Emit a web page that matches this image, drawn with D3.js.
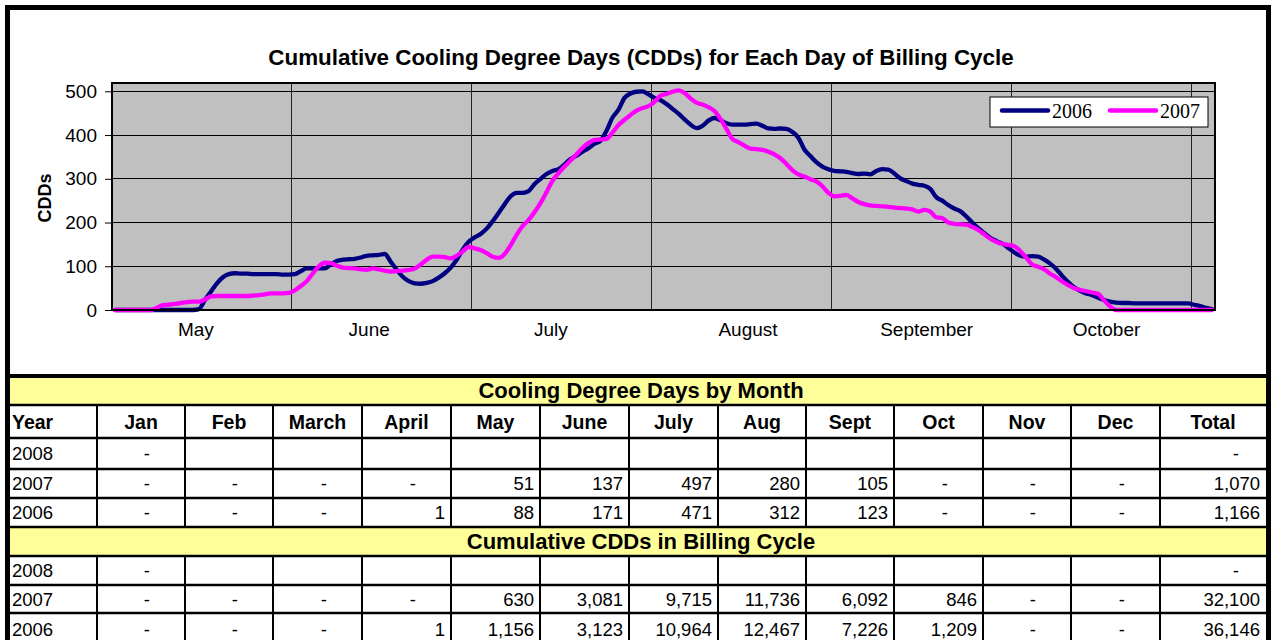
<!DOCTYPE html>
<html>
<head>
<meta charset="utf-8">
<script src="https://cdn.jsdelivr.net/npm/d3@7"></script>
<style>
  body { margin: 0; background: #fff; }
  svg { display: block; font-family: "Liberation Sans", Arial, sans-serif; }
</style>
</head>
<body>
<div id="chart"></div>
<script>
// daily cumulative CDDs, one value per day of the cycle (184 days, May..October)
var cdd2006 = [
  0,0,0,0,0,0,0,0,0,0, 0,0,0,0,2,23,42,61,75,82,
  84,83,83,82,82,82,82,82,81,81, 82,89,95,95,95,95,104,112,115,116,
  117,120,124,125,126,128,110,92,76,66, 61,60,62,66,74,84,97,115,138,156,
  166,174,186,203,222,242,260,268,268,272, 288,300,311,318,322,333,345,353,362,370,
  380,387,410,440,458,485,495,499,500,493, 485,480,471,460,449,436,424,416,421,433,
  439,434,427,424,424,424,425,426,421,415, 414,415,414,407,394,367,352,338,328,322,
  318,317,316,313,311,312,310,318,322,321, 312,301,295,289,286,284,277,258,250,240,
  232,226,214,200,187,176,165,158,152,142, 132,124,122,123,122,115,106,94,78,64,
  52,44,38,34,28,23,19,17,16,16, 15,15,15,15,15,15,15,15,15,15,
  12,9,5,2
];
var cdd2007 = [
  0,0,0,0,0,0,0,5,11,12, 14,16,18,19,19,24,31,32,32,32,
  32,32,32,33,34,36,38,38,38,39, 45,55,66,84,100,108,107,101,97,96,
  95,93,92,95,93,90,88,89,90,92, 95,104,115,122,122,121,118,124,134,144,
  141,137,130,122,119,128,148,172,192,206, 224,245,270,296,313,328,342,356,371,382,
  389,390,391,406,423,435,446,456,462,466, 476,490,494,499,502,496,484,474,470,464,
  455,437,414,391,384,376,369,368,366,362, 356,347,334,320,310,305,299,294,283,268,
  260,261,263,255,247,242,239,238,237,236, 234,233,232,230,225,229,225,212,210,200,
  197,196,195,190,183,173,163,156,151,149, 146,135,120,104,99,93,83,75,65,57,
  50,46,43,40,37,22,8,0,0,0, 0,0,0,0,0,0,0,0,0,0,
  0,0,0,0
];
var seriesNames = ["2006", "2007"];
var seriesColors = ["#000080", "#ff00ff"];

var yTicks = [0, 100, 200, 300, 400, 500];
var monthLabels = ["May", "June", "July", "August", "September", "October"];
var monthLabelDay = [13.5, 42.4, 72.7, 105.6, 135.4, 165.4];
var gridDays = [30, 60, 90, 120, 150, 180];

var tableHeaders = ["Year", "Jan", "Feb", "March", "April", "May", "June", "July", "Aug", "Sept", "Oct", "Nov", "Dec", "Total"];
var monthly2008 = ["2008", "-", "", "", "", "", "", "", "", "", "", "", "", "-"];
var monthly2007 = ["2007", "-", "-", "-", "-", "51", "137", "497", "280", "105", "-", "-", "-", "1,070"];
var monthly2006 = ["2006", "-", "-", "-", "1", "88", "171", "471", "312", "123", "-", "-", "-", "1,166"];
var cumul2008 = ["2008", "-", "", "", "", "", "", "", "", "", "", "", "", "-"];
var cumul2007 = ["2007", "-", "-", "-", "-", "630", "3,081", "9,715", "11,736", "6,092", "846", "-", "-", "32,100"];
var cumul2006 = ["2006", "-", "-", "-", "1", "1,156", "3,123", "10,964", "12,467", "7,226", "1,209", "-", "-", "36,146"];

var W = 1271, H = 640;
var plot = { left: 112, right: 1215, top: 83, bottom: 310 };

var svg = d3.select("#chart").append("svg")
    .attr("width", W)
    .attr("height", H);

svg.append("rect").attr("width", W).attr("height", H).attr("fill", "#fff");

var x = d3.scaleLinear().domain([0, cdd2006.length]).range([plot.left, plot.right]);
var y = d3.scaleLinear().domain([0, 519]).range([plot.bottom, plot.top]);

// plot background
svg.append("rect")
   .attr("x", plot.left).attr("y", plot.top)
   .attr("width", plot.right - plot.left).attr("height", plot.bottom - plot.top)
   .attr("fill", "#c0c0c0");

// gridlines
svg.append("g").selectAll("line")
   .data(yTicks.slice(1))
   .enter().append("line")
   .attr("x1", plot.left).attr("x2", plot.right)
   .attr("y1", function(d) { return y(d); })
   .attr("y2", function(d) { return y(d); })
   .attr("stroke", "#000").attr("stroke-width", 1).attr("shape-rendering", "crispEdges");

svg.append("g").selectAll("line")
   .data(gridDays)
   .enter().append("line")
   .attr("x1", function(d) { return x(d); })
   .attr("x2", function(d) { return x(d); })
   .attr("y1", plot.top).attr("y2", plot.bottom)
   .attr("stroke", "#222").attr("stroke-width", 1).attr("shape-rendering", "crispEdges");

// lines
var line = d3.line()
   .x(function(d, i) { return x(i + 0.5); })
   .y(function(d) { return y(d); })
   .curve(d3.curveMonotoneX);

[cdd2006, cdd2007].forEach(function(s, k) {
  svg.append("path")
     .datum(s)
     .attr("d", line)
     .attr("fill", "none")
     .attr("stroke", seriesColors[k])
     .attr("stroke-width", 4.3)
     .attr("stroke-linejoin", "round")
     .attr("stroke-linecap", "round");
});

// plot border
svg.append("rect")
   .attr("x", plot.left).attr("y", plot.top)
   .attr("width", plot.right - plot.left).attr("height", plot.bottom - plot.top)
   .attr("fill", "none").attr("stroke", "#000").attr("stroke-width", 2);

// y axis
var yAxis = d3.axisLeft(y).tickValues(yTicks).tickSize(7).tickPadding(8);
var ag = svg.append("g")
   .attr("transform", "translate(" + plot.left + ",0)")
   .call(yAxis);
ag.select(".domain").remove();
ag.selectAll("text").attr("font-size", 19).attr("fill", "#000")
  .attr("font-family", "Liberation Sans, Arial, sans-serif");
ag.selectAll("line").attr("stroke", "#000");

svg.append("text")
   .attr("transform", "translate(51,198) rotate(-90)")
   .attr("text-anchor", "middle")
   .attr("font-size", 18).attr("font-weight", "bold")
   .text("CDDs");

// month labels
svg.append("g").selectAll("text")
   .data(monthLabels)
   .enter().append("text")
   .attr("x", function(d, i) { return x(monthLabelDay[i] + 0.5); })
   .attr("y", 336)
   .attr("text-anchor", "middle")
   .attr("font-size", 19)
   .text(function(d) { return d; });

// title
svg.append("text")
   .attr("x", 641).attr("y", 65)
   .attr("text-anchor", "middle")
   .attr("font-size", 22.4).attr("font-weight", "bold")
   .text("Cumulative Cooling Degree Days (CDDs) for Each Day of Billing Cycle");

// legend
var lg = svg.append("g").attr("transform", "translate(990,97)");
lg.append("rect").attr("width", 218).attr("height", 30)
  .attr("fill", "#fff").attr("stroke", "#000").attr("stroke-width", 1);
seriesNames.forEach(function(n, k) {
  var ox = 12 + k * 108;
  lg.append("line").attr("x1", ox).attr("x2", ox + 46).attr("y1", 13.5).attr("y2", 13.5)
    .attr("stroke", seriesColors[k]).attr("stroke-width", 4.5).attr("stroke-linecap", "round");
  lg.append("text").attr("x", ox + 50).attr("y", 21)
    .attr("font-family", "Liberation Serif, Times New Roman, serif")
    .attr("font-size", 20)
    .text(n);
});

// table
var colX = [10, 97, 185, 273, 362, 451, 540, 629, 718, 806, 894, 983, 1071, 1160, 1266];
var rowY = [376, 405, 438, 469, 498, 527, 556, 585, 613, 645];
var tableRows = [
  { band: "Cooling Degree Days by Month" },
  { head: tableHeaders },
  { cells: monthly2008 },
  { cells: monthly2007 },
  { cells: monthly2006 },
  { band: "Cumulative CDDs in Billing Cycle" },
  { cells: cumul2008 },
  { cells: cumul2007 },
  { cells: cumul2006 }
];

var tg = svg.append("g");
tableRows.forEach(function(r, ri) {
  var y0 = rowY[ri], y1 = rowY[ri + 1], cy = (y0 + y1) / 2;
  if (r.band) {
    tg.append("rect").attr("x", colX[0]).attr("y", y0)
      .attr("width", colX[colX.length - 1] - colX[0]).attr("height", y1 - y0)
      .attr("fill", "#ffff99");
    tg.append("text").attr("x", 641).attr("y", cy).attr("dy", "0.36em")
      .attr("text-anchor", "middle").attr("font-size", 22).attr("font-weight", "bold")
      .text(r.band);
    return;
  }
  var vals = r.head || r.cells;
  vals.forEach(function(v, ci) {
    var t = tg.append("text").attr("y", cy).attr("dy", "0.36em").text(v);
    if (r.head) {
      t.attr("font-size", 19.5).attr("font-weight", "bold");
      if (ci === 0) t.attr("x", colX[0] + 2);
      else t.attr("x", (colX[ci] + colX[ci + 1]) / 2).attr("text-anchor", "middle");
    } else {
      t.attr("font-size", 18.5);
      if (ci === 0) t.attr("x", colX[0] + 2);
      else if (v === "-") t.attr("x", colX[ci + 1] - (ci === 13 ? 27 : 35)).attr("text-anchor", "end");
      else t.attr("x", colX[ci + 1] - 6).attr("text-anchor", "end");
    }
  });
  // column separators
  colX.slice(1, -1).forEach(function(cx) {
    tg.append("line").attr("x1", cx).attr("x2", cx).attr("y1", y0).attr("y2", y1)
      .attr("stroke", "#000").attr("stroke-width", 2);
  });
});

// row separators
rowY.forEach(function(ry, i) {
  tg.append("line").attr("x1", 5).attr("x2", W).attr("y1", ry).attr("y2", ry)
    .attr("stroke", "#000").attr("stroke-width", i === 0 ? 4 : 2.5);
});

// outer frame
svg.append("rect")
   .attr("x", 7.5).attr("y", 7.5)
   .attr("width", 1261).attr("height", 700)
   .attr("fill", "none").attr("stroke", "#000").attr("stroke-width", 5);
</script>
</body>
</html>
